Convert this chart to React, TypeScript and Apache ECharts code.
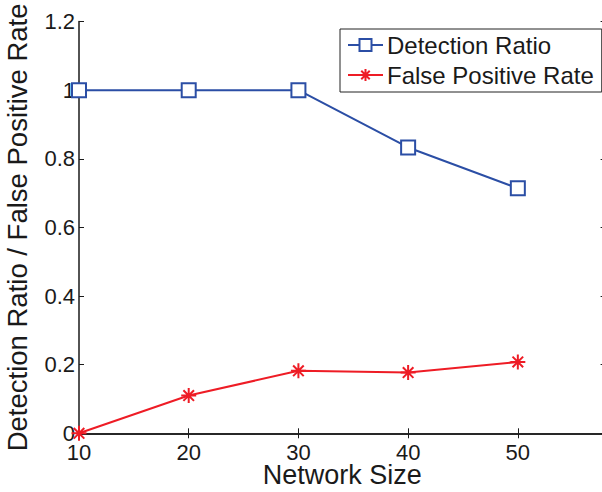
import React, { useEffect, useRef } from "react";
import * as echarts from "echarts";

const networkSizes = [10, 20, 30, 40, 50];
const detectionRatio = [1.0, 1.0, 1.0, 0.833, 0.714];
const falsePositiveRate = [0.0, 0.11, 0.182, 0.177, 0.208];
const seriesNames = ["Detection Ratio", "False Positive Rate"];
const xAxisTitle = "Network Size";
const yAxisTitle = "Detection Ratio / False Positive Rate";

const FONT = "'Liberation Sans', Arial, Helvetica, sans-serif";
const AXIS_COLOR = "#1a1a1a";
const BLUE = "#2B4EA5";
const RED = "#EE1C25";
const STAR =
  "path://M0,-10 L0,10 M-10,0 L10,0 M-7.07,-7.07 L7.07,7.07 M-7.07,7.07 L7.07,-7.07";

export default function App() {
  const ref = useRef<HTMLDivElement>(null);
  useEffect(() => {
    if (!ref.current) return;
    const chart = echarts.init(ref.current, null, { renderer: "svg" });
    const axisLine = { show: true, lineStyle: { color: AXIS_COLOR, width: 1.5 } };
    const tick = { show: true, inside: true, length: 5, lineStyle: { color: AXIS_COLOR, width: 1 } };
    chart.setOption({
      animation: false,
      backgroundColor: "#fff",
      textStyle: { fontFamily: FONT },
      grid: {
        left: 79,
        right: -3.6,
        top: 21.5,
        bottom: 58.7,
        containLabel: false,
        outerBoundsMode: "none",
      },
      legend: {
        orient: "vertical",
        left: 340,
        top: 29,
        padding: [4, 8, 5, 7],
        itemGap: 6,
        itemWidth: 35,
        itemHeight: 15,
        backgroundColor: "#fff",
        borderColor: "#222",
        borderWidth: 1,
        borderRadius: 0,
        textStyle: { fontSize: 24, color: "#1a1a1a", fontFamily: FONT, lineHeight: 24, padding: [0, 0, 0, -1] },
        data: seriesNames,
      },
      xAxis: [
        {
          type: "value",
          min: 10,
          max: 58,
          interval: 10,
          position: "bottom",
          axisLine,
          axisTick: tick,
          splitLine: { show: false },
          axisLabel: {
            show: true,
            showMaxLabel: false,
            fontSize: 22,
            lineHeight: 18,
            color: "#1a1a1a",
            fontFamily: FONT,
            margin: 10,
            formatter: (v: number) => (v % 10 === 0 ? String(v) : ""),
          },
          name: xAxisTitle,
          nameLocation: "middle",
          nameGap: 28,
          nameMoveOverlap: false,
          nameTextStyle: {
            fontSize: 27,
            lineHeight: 27,
            color: "#1a1a1a",
            fontFamily: FONT,
            verticalAlign: "top",
          },
        },
        {
          type: "value",
          min: 10,
          max: 58,
          interval: 10,
          position: "top",
          axisLine,
          axisTick: tick,
          splitLine: { show: false },
          axisLabel: { show: false },
        },
      ],
      yAxis: [
        {
          type: "value",
          min: 0,
          max: 1.2,
          interval: 0.2,
          position: "left",
          axisLine,
          axisTick: tick,
          splitLine: { show: false },
          axisLabel: { fontSize: 22, color: "#1a1a1a", fontFamily: FONT, margin: 4 },
          name: yAxisTitle,
          nameLocation: "middle",
          nameGap: 48,
          nameTextStyle: { fontSize: 27.5, color: "#1a1a1a", fontFamily: FONT },
        },
        {
          type: "value",
          min: 0,
          max: 1.2,
          interval: 0.2,
          position: "right",
          axisLine,
          axisTick: tick,
          splitLine: { show: false },
          axisLabel: { show: false },
        },
      ],
      series: [
        {
          name: seriesNames[0],
          type: "line",
          xAxisIndex: 0,
          yAxisIndex: 0,
          clip: false,
          data: networkSizes.map((x, i) => [x, detectionRatio[i]]),
          symbol: "emptyRect",
          symbolSize: 14,
          lineStyle: { color: BLUE, width: 2 },
          itemStyle: { color: BLUE, borderColor: BLUE, borderWidth: 2 },
        },
        {
          name: seriesNames[1],
          type: "line",
          xAxisIndex: 0,
          yAxisIndex: 0,
          clip: false,
          data: networkSizes.map((x, i) => [x, falsePositiveRate[i]]),
          symbol: STAR,
          symbolSize: 15,
          lineStyle: { color: RED, width: 2 },
          itemStyle: { color: RED, borderColor: RED, borderWidth: 2 },
        },
      ],
    });
    return () => chart.dispose();
  }, []);
  return (
    <div
      ref={ref}
      style={{ position: "fixed", left: 0, top: 0, width: 602, height: 492, background: "#fff" }}
    />
  );
}
